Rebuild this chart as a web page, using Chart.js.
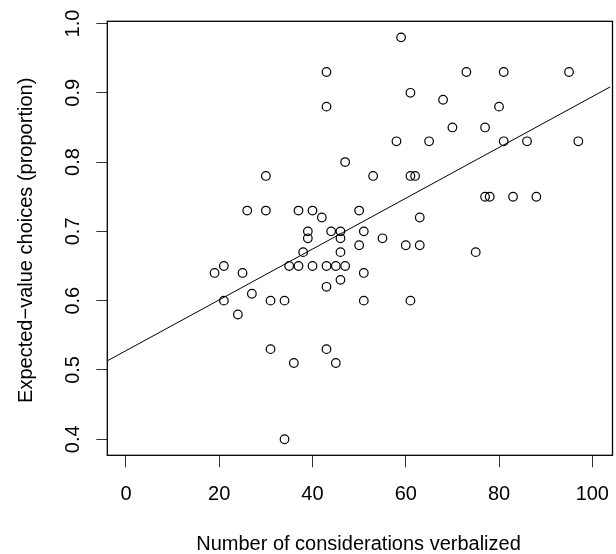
<!DOCTYPE html>
<html>
<head>
<meta charset="utf-8">
<script src="https://cdn.jsdelivr.net/npm/chart.js@4"></script>
<style>
html, body { margin: 0; padding: 0; background: #fff; }
#wrap { width: 616px; height: 554px; }
</style>
</head>
<body>
<div id="wrap"><canvas id="myChart"></canvas></div>
<script>
// number of considerations verbalized (x) and proportion of EV choices (y)
const considerations = [
    19, 21, 21, 24, 25, 26, 27,
    30, 30, 31, 31, 34, 34, 35, 36,
    37, 37, 38, 39, 39, 40, 40, 42,
    43, 43, 43, 43, 43,
    44, 45, 45,
    46, 46, 46, 46,
    47, 47,
    50, 50, 51, 51, 51,
    53, 55, 58, 59, 60,
    61, 61, 61,
    62, 63, 63, 65, 68, 70, 73, 75,
    77, 77, 78, 80, 81, 81, 83, 86, 88, 95, 97
];
const evChoices = [
    0.64, 0.65, 0.60, 0.58, 0.64, 0.73, 0.61,
    0.78, 0.73, 0.60, 0.53, 0.60, 0.40, 0.65, 0.51,
    0.73, 0.65, 0.67, 0.70, 0.69, 0.73, 0.65, 0.72,
    0.93, 0.88, 0.65, 0.62, 0.53,
    0.70, 0.65, 0.51,
    0.70, 0.69, 0.67, 0.63,
    0.80, 0.65,
    0.73, 0.68, 0.70, 0.64, 0.60,
    0.78, 0.69, 0.83, 0.98, 0.68,
    0.90, 0.78, 0.60,
    0.78, 0.72, 0.68, 0.83, 0.89, 0.85, 0.93, 0.67,
    0.85, 0.75, 0.75, 0.88, 0.93, 0.83, 0.75, 0.83, 0.75, 0.93, 0.83
];
const xTicks = [0, 20, 40, 60, 80, 100];
const yTicks = [0.4, 0.5, 0.6, 0.7, 0.8, 0.9, 1.0];

const xTitle = 'Number of considerations verbalized';
const yTitle = 'Expected\u2212value choices (proportion)';
const font = '"Liberation Sans", Arial, sans-serif';

// least squares line, like abline(lm(y ~ x))
const n = considerations.length;
const mx = considerations.reduce((a, b) => a + b, 0) / n;
const my = evChoices.reduce((a, b) => a + b, 0) / n;
let sxy = 0, sxx = 0;
for (let i = 0; i < n; i++) {
    sxy += (considerations[i] - mx) * (evChoices[i] - my);
    sxx += (considerations[i] - mx) * (considerations[i] - mx);
}
const slope = sxy / sxx;
const intercept = my - slope * mx;

const xMin = -4, xMax = 103.9;
const yMin = 0.3768, yMax = 1.0032;

const points = considerations.map((x, i) => ({x: x, y: evChoices[i]}));
const fitLine = [xMin, xMax].map(x => ({x: x, y: intercept + slope * x}));

// box, rotated y tick labels and axis titles drawn R-style
const rStyle = {
    id: 'rStyle',
    afterDraw(chart) {
        const ctx = chart.ctx;
        const a = chart.chartArea;
        const y = chart.scales.y;
        ctx.save();
        ctx.strokeStyle = '#000';
        ctx.lineWidth = 1.3;
        ctx.strokeRect(a.left, a.top, a.right - a.left + 2, a.bottom - a.top);

        ctx.fillStyle = '#000';
        ctx.font = '20px ' + font;
        ctx.textAlign = 'center';
        ctx.textBaseline = 'alphabetic';
        yTicks.forEach(v => {
            ctx.save();
            ctx.translate(78.5, y.getPixelForValue(v));
            ctx.rotate(-Math.PI / 2);
            ctx.fillText(v.toFixed(1), 0, 0);
            ctx.restore();
        });

        ctx.fillText(xTitle, 358.5, 550);
        ctx.save();
        ctx.translate(31.5, (a.top + a.bottom) / 2 + 2);
        ctx.rotate(-Math.PI / 2);
        ctx.fillText(yTitle, 0, 0);
        ctx.restore();
        ctx.restore();
    }
};

const config = {
    type: 'scatter',
    data: {
        datasets: [{
            data: points,
            pointStyle: 'circle',
            pointRadius: 4.3,
            pointHoverRadius: 4.3,
            backgroundColor: 'rgba(0,0,0,0)',
            borderColor: '#000',
            borderWidth: 1.2
        }, {
            type: 'line',
            data: fitLine,
            pointRadius: 0,
            borderColor: '#000',
            borderWidth: 1,
            fill: false
        }]
    },
    options: {
        responsive: true,
        maintainAspectRatio: false,
        animation: false,
        events: [],
        layout: {padding: {top: 21.3, right: 0, left: 0, bottom: 0}},
        plugins: {legend: {display: false}, tooltip: {enabled: false}},
        scales: {
            x: {
                type: 'linear',
                min: xMin,
                max: xMax,
                afterBuildTicks: s => { s.ticks = xTicks.map(v => ({value: v})); },
                afterFit: s => { s.height = 98.7; s.paddingLeft = 0; s.paddingRight = 0; },
                border: {display: false},
                grid: {drawOnChartArea: false, drawTicks: true, tickLength: 12, color: '#333', lineWidth: 1},
                ticks: {color: '#000', font: {family: font, size: 20}, padding: 15, maxRotation: 0}
            },
            y: {
                type: 'linear',
                min: yMin,
                max: yMax,
                afterBuildTicks: s => { s.ticks = yTicks.map(v => ({value: v})); },
                afterFit: s => { s.width = 107.3; s.paddingTop = 0; s.paddingBottom = 0; },
                border: {display: false},
                grid: {drawOnChartArea: false, drawTicks: true, tickLength: 11, color: '#333', lineWidth: 1},
                ticks: {color: 'rgba(0,0,0,0)', font: {family: font, size: 20}}
            }
        }
    },
    plugins: [rStyle]
};

const myChart = new Chart(document.getElementById('myChart'), config);
</script>
</body>
</html>
